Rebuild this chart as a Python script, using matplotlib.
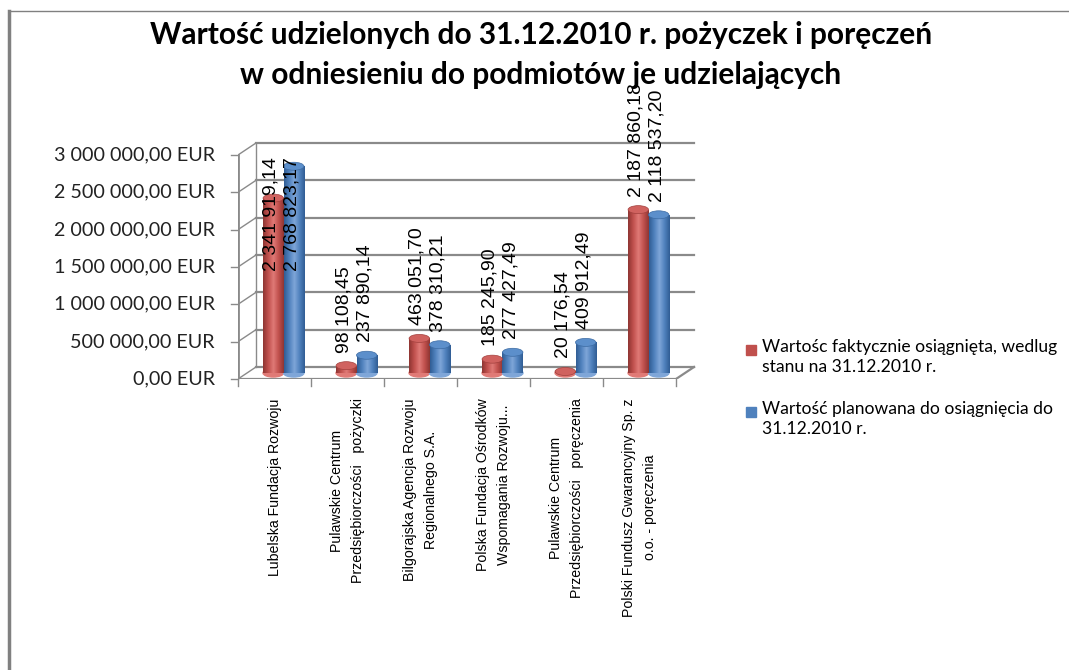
import matplotlib
matplotlib.use("Agg")
import matplotlib.pyplot as plt
import numpy as np
from matplotlib.patches import Ellipse, Rectangle
from matplotlib.colors import LinearSegmentedColormap
from matplotlib.lines import Line2D

# ---------------- data ----------------
categories = [
    "Lubelska Fundacja Rozwoju",
    "Pulawskie Centrum\nPrzedsiębiorczości   pożyczki",
    "Bilgorajska Agencja Rozwoju\nRegionalnego S.A.",
    "Polska Fundacja Ośrodków\nWspomagania Rozwoju...",
    "Pulawskie Centrum\nPrzedsiębiorczości   poręczenia",
    "Polski Fundusz Gwarancyjny Sp. z\no.o. - poręczenia",
]
actual = [2341919.14, 98108.45, 463051.70, 185245.90, 20176.54, 2187860.18]
planned = [2768823.17, 237890.14, 378310.21, 277427.49, 409912.49, 2118537.20]
series_names = [
    "Wartośc faktycznie osiągnięta, wedlug\nstanu na 31.12.2010 r.",
    "Wartość planowana do osiągnięcia do\n31.12.2010 r.",
]
yticks = [0, 500000, 1000000, 1500000, 2000000, 2500000, 3000000]
title = "Wartość udzielonych do 31.12.2010 r. pożyczek i poręczeń\nw odniesieniu do podmiotów je udzielających"

# ---------------- style ----------------
RED = "#C0504D"
BLUE = "#4F81BD"
GRID = "#8a8a8a"
W, H, DPI = 1069, 670, 100

def fmt(v):
    s = f"{v:,.2f}"
    return s.replace(",", " ").replace(".", ",")

fig = plt.figure(figsize=(W / DPI, H / DPI), dpi=DPI)
fig.patch.set_facecolor("white")

# outer chart border (left and top)
fig.add_artist(Line2D([9 / W, 9 / W], [0, 1 - 11 / H], color="#808080", lw=2.5))
fig.add_artist(Line2D([9 / W, 1], [1 - 11 / H, 1 - 11 / H], color="#808080", lw=1.0))

# axes placement: x=0 at px 238, 73 px per category; y=0 at px 379, 74.67 px per 1M
px_cat = 73.0
px_val = 74.67 / 1e6
xmax = 6.3
ymax = 3.3e6
left = 238 / W
bottom = (H - 379) / H
ax = fig.add_axes([left, bottom, xmax * px_cat / W, ymax * px_val / H])
ax.set_xlim(0, xmax)
ax.set_ylim(0, ymax)
ax.axis("off")

n = len(categories)
dx = 18 / px_cat           # depth offset in category units
dy = 12 / px_val           # depth offset in value units

# back wall gridlines + side diagonals
for v in yticks:
    ax.plot([dx, n + dx], [v + dy, v + dy], color=GRID, lw=1.6, zorder=1)
    ax.plot([0, dx], [v, v + dy], color=GRID, lw=1.0, zorder=1)
    ax.plot([-0.1, 0], [v, v], color=GRID, lw=1.0, zorder=1, clip_on=False)
ax.plot([dx, dx], [dy, yticks[-1] + dy], color=GRID, lw=1.0, zorder=1)
ax.plot([0, 0], [0, yticks[-1]], color=GRID, lw=2.0, zorder=2)
# floor
ax.plot([0, n], [0, 0], color=GRID, lw=1.6, zorder=2)
ax.plot([n, n + dx], [0, dy], color=GRID, lw=1.6, zorder=2)
for i in range(n + 1):
    ax.plot([i, i], [0, -0.1e6], color=GRID, lw=1.0, clip_on=False, zorder=2)

# y tick labels
for v in yticks:
    ax.text(-0.32, v, fmt(v) + " EUR", ha="right", va="center",
            fontsize=14.2, family="Lato", color="#222222", clip_on=False)

# cylinders
def cmap_for(base, dark, light):
    return LinearSegmentedColormap.from_list(
        "c", [dark, base, light, base, dark], N=256)

cmaps = [cmap_for(RED, "#8E3532", "#E07A76"), cmap_for(BLUE, "#305C93", "#7FA6D8")]
tops_col = ["#D0625F", "#5C8FCB"]
bw = 0.28
ell_h = 8 / px_val
base = dy / 2
grad = np.linspace(0, 1, 256).reshape(1, -1)

for s, (vals, cm, tc) in enumerate(zip([actual, planned], cmaps, tops_col)):
    for i, v in enumerate(vals):
        xc = i + 0.5 + dx / 2 + (s - 0.5) * bw
        x0 = xc - bw / 2
        # bottom ellipse
        ax.add_patch(Ellipse((xc, base), bw, ell_h, color=cm(0.5), zorder=3))
        rect = Rectangle((x0, base), bw, v, facecolor="none", edgecolor="none", zorder=3)
        ax.add_patch(rect)
        im = ax.imshow(grad, cmap=cm, extent=(x0, x0 + bw, base, base + v),
                       aspect="auto", zorder=4, interpolation="bilinear")
        im.set_clip_path(rect)
        ax.add_patch(Ellipse((xc, base + v), bw, ell_h, color=tc, zorder=5,
                             ec=cm(0.1), lw=0.5))
        # data label
        gap = 13 / px_val
        label_len = 120 / px_val
        top_px_val = (379 - 70) / (74.67) * 1e6
        if base + v + gap + label_len > top_px_val:
            ly = (379 - 271) / 74.67 * 1e6
        else:
            ly = base + v + gap
        ax.text(xc - 0.03, ly, fmt(v), rotation=90, ha="center", va="bottom",
                fontsize=14, family="Liberation Sans", color="black",
                zorder=6, clip_on=False)

# category labels
for i, c in enumerate(categories):
    ax.text(i + 0.5, -0.26e6, c, rotation=90, ha="center", va="top",
            multialignment="center", fontsize=10.2, family="Liberation Sans",
            color="black", clip_on=False, linespacing=1.7)

# title
fig.text(541 / W, 1 - 55 / H, title, ha="center", va="center", fontsize=21.5,
         family="Lato", fontweight="bold", linespacing=1.5)

# legend
for s, (name, col) in enumerate(zip(series_names, [RED, BLUE])):
    ytop = 345 + s * 62
    fig.add_artist(Rectangle((746 / W, 1 - (ytop + 10) / H), 10 / W, 10 / H,
                             transform=fig.transFigure, color=col))
    fig.text(762 / W, 1 - (ytop - 6) / H, name, ha="left", va="top",
             fontsize=12.6, family="Lato", linespacing=1.3)

fig.savefig("out.png", dpi=DPI)
